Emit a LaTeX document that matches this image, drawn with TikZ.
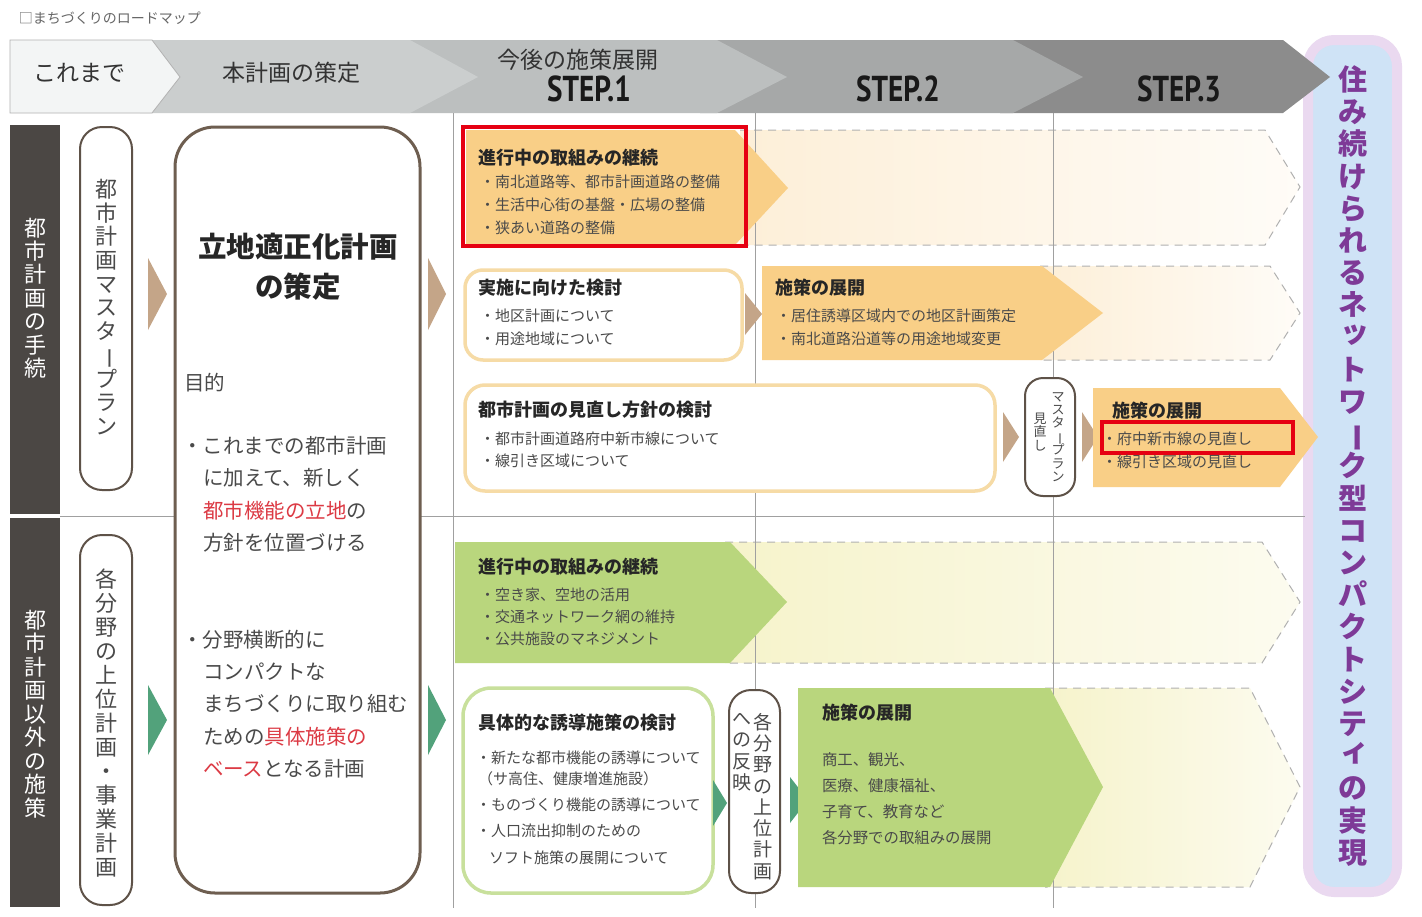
\documentclass[tikz,border=0pt]{standalone}
\usepackage{fontspec}
\setmainfont{Noto Sans CJK JP}
\newfontfamily\stepfont{PT Sans}
\definecolor{hdr0}{HTML}{F3F5F5}
\definecolor{hdr1}{HTML}{CBCECE}
\definecolor{hdr2}{HTML}{BCBFBF}
\definecolor{hdr3}{HTML}{A6A8A8}
\definecolor{hdr4}{HTML}{8C8C8C}
\definecolor{darkbar}{HTML}{4B4744}
\definecolor{pillc}{HTML}{5E5248}
\definecolor{bigc}{HTML}{6E5E50}
\definecolor{tanc}{HTML}{C4A588}
\definecolor{grtri}{HTML}{52A27B}
\definecolor{orf}{HTML}{F9CF87}
\definecolor{orb}{HTML}{F6DBA6}
\definecolor{orfade}{HTML}{FDEFD8}
\definecolor{grf}{HTML}{B9D67D}
\definecolor{grb}{HTML}{C8E09C}
\definecolor{grfade}{HTML}{F6F3CB}
\definecolor{redc}{HTML}{E60012}
\definecolor{purp}{HTML}{7E3A97}
\definecolor{lav}{HTML}{EAD9F0}
\definecolor{skyb}{HTML}{CFE3F6}
\definecolor{txtc}{HTML}{4A4A4A}
\definecolor{ttlc}{HTML}{262626}
\definecolor{gridc}{HTML}{A0A0A0}
\definecolor{redtxt}{HTML}{DC3A44}
\definecolor{dashc}{HTML}{B0B0B0}
% vertical text helpers
\newcommand\smallk[1]{\raisebox{0.18em}{\kern0.12em #1}}
\newcommand\vtg[1]{\ifx#1ー\rotatebox[origin=c]{-90}{ー}\else\ifx#1ッ\smallk{ッ}\else\ifx#1ィ\smallk{ィ}\else#1\fi\fi\fi}
\def\vtloop#1{\ifx#1\relax\else\hbox to 1.2em{\hss\vtg{#1}\hss}\expandafter\vtloop\fi}
\newcommand\vtext[2]{\vbox{\baselineskip=#1\lineskiplimit=-200pt\lineskip=0pt\vtloop#2\relax}}
\tikzset{
  ttl/.style={anchor=west,font=\bfseries\fontsize{18}{22}\selectfont,text=ttlc},
  bl/.style={anchor=west,font=\fontsize{15}{20}\selectfont,text=txtc},
  bigt/.style={anchor=west,font=\fontsize{20.5}{24}\selectfont,text=txtc},
  hdrt/.style={font=\fontsize{23}{26}\selectfont,text=black!80},
  stept/.style={font=\stepfont\bfseries\fontsize{36}{40}\selectfont,text=black!90},
  pillbox/.style={draw=pillc,line width=2pt,fill=white},
  dashext/.style={draw=dashc,line width=1pt,dash pattern=on 8pt off 6pt},
  gridl/.style={draw=gridc,line width=1pt},
}
\begin{document}
\begin{tikzpicture}[x=1pt,y=-1pt,every node/.style={inner sep=0pt,outer sep=0pt}]
\useasboundingbox (0,0) rectangle (1422,916);
\fill[white] (0,0) rectangle (1422,916);

% title
\node[anchor=west,font=\fontsize{14}{16}\selectfont,text=black!60] (title) at (19,18) {□まちづくりのロードマップ};

% goal box
\draw[line width=10pt,draw=lav,fill=skyb,rounded corners=26pt] (1308,40) rectangle (1397,892);
\node[font=\bfseries\fontsize{29}{32}\selectfont,text=purp] (goal) at (1353,466) {\vtext{32.2pt}{住み続けられるネットワーク型コンパクトシティの実現}};

% header band
\fill[hdr4] (1000,40) -- (1283,40) -- (1330,77) -- (1283,113) -- (1000,113) -- cycle;
\fill[hdr3] (700,40) -- (1013,40) -- (1083,77) -- (1013,113) -- (700,113) -- cycle;
\fill[hdr2] (400,40) -- (717,40) -- (787,77) -- (717,113) -- (400,113) -- cycle;
\fill[hdr1] (140,40) -- (410,40) -- (478,77) -- (410,113) -- (140,113) -- cycle;
\filldraw[fill=hdr0,draw=black!30,line width=0.8pt] (10,40) -- (152,40) -- (180,77) -- (152,113) -- (10,113) -- cycle;
\node[hdrt] (h0) at (79,73) {これまで};
\node[hdrt] (h1) at (291,73) {本計画の策定};
\node[hdrt] (h2) at (578,60) {今後の施策展開};
\node[stept] (s1) at (589,89) {\scalebox{0.81}[1]{STEP.1}};
\node[stept] (s2) at (898,89) {\scalebox{0.81}[1]{STEP.2}};
\node[stept] (s3) at (1179,89) {\scalebox{0.81}[1]{STEP.3}};

% faded extensions
\shade[left color=orfade,right color=orfade!20!white] (740,130) -- (1265,130) -- (1300,187) -- (1265,245) -- (740,245) -- cycle;
\draw[dashext] (740,130) -- (1265,130) -- (1300,187) -- (1265,245) -- (740,245);
\shade[left color=orfade,right color=orfade!20!white] (1040,266) -- (1270,266) -- (1300,313) -- (1270,360) -- (1040,360) -- cycle;
\draw[dashext] (1040,266) -- (1270,266) -- (1300,313) -- (1270,360) -- (1040,360);
\shade[left color=grfade,right color=grfade!30!white] (725,542) -- (1262,542) -- (1300,602) -- (1262,663) -- (725,663) -- cycle;
\draw[dashext] (725,542) -- (1262,542) -- (1300,602) -- (1262,663) -- (725,663);
\shade[left color=grfade,right color=grfade!30!white] (1045,688) -- (1250,688) -- (1300,787) -- (1250,887) -- (1045,887) -- cycle;
\draw[dashext] (1045,688) -- (1250,688) -- (1300,787) -- (1250,887) -- (1045,887);

% grid lines
\draw[gridl] (453,113) -- (453,908);
\draw[gridl] (755,113) -- (755,908);
\draw[gridl] (1053,113) -- (1053,908);
\draw[gridl] (60,516) -- (1305,516);

% left dark bars
\fill[darkbar] (10,125) rectangle (60,514);
\fill[darkbar] (10,518) rectangle (60,907);
\node[font=\fontsize{22}{24}\selectfont,text=white] (lb1) at (35,298) {\vtext{23.4pt}{都市計画の手続}};
\node[font=\fontsize{22}{24}\selectfont,text=white] (lb2) at (35,714) {\vtext{23.5pt}{都市計画以外の施策}};

% left pills
\draw[pillbox,rounded corners=22pt] (80,127) rectangle (132,490);
\node[font=\fontsize{22}{24}\selectfont,text=txtc] (p1) at (106,307) {\vtext{23.7pt}{都市計画マスタープラン}};
\draw[pillbox,rounded corners=22pt] (80,535) rectangle (132,905);
\node[font=\fontsize{22}{24}\selectfont,text=txtc] (p2) at (106,723) {\vtext{24pt}{各分野の上位計画・事業計画}};

% triangles left
\fill[tanc] (148,258) -- (167,294) -- (148,330) -- cycle;
\fill[grtri] (148,685) -- (167,720) -- (148,755) -- cycle;
\fill[tanc] (428,258) -- (446,294) -- (428,330) -- cycle;
\fill[grtri] (428,685) -- (446,720) -- (428,755) -- cycle;

% big box
\draw[draw=bigc,line width=3pt,fill=white,rounded corners=40pt] (175,127) rectangle (420,893);
\node[font=\bfseries\fontsize{28.5}{32}\selectfont,text=ttlc] (bt1) at (298,247) {立地適正化計画};
\node[font=\bfseries\fontsize{28.5}{32}\selectfont,text=ttlc] (bt2) at (298,287) {の策定};
\node[bigt] (bp0) at (184,383) {目的};
\node[bigt] (bp1) at (182,446) {・これまでの都市計画};
\node[bigt] (bp2) at (203,478) {に加えて、新しく};
\node[bigt] (bp3) at (203,511) {{\color{redtxt}都市機能の立地}の};
\node[bigt] (bp4) at (203,543) {方針を位置づける};
\node[bigt] (bp5) at (182,640) {・分野横断的に};
\node[bigt] (bp6) at (203,672) {コンパクトな};
\node[bigt] (bp7) at (203,704) {まちづくりに取り組む};
\node[bigt] (bp8) at (203,737) {ための{\color{redtxt}具体施策の}};
\node[bigt] (bp9) at (203,769) {{\color{redtxt}ベース}となる計画};

% row 1
\fill[orf] (466,130) -- (735,130) -- (788,188) -- (735,245) -- (466,245) -- cycle;
\draw[redc,line width=4pt] (463,127) rectangle (746,246);
\node[ttl] (r1t) at (478,158) {進行中の取組みの継続};
\node[bl] (r1a) at (480,182) {・南北道路等、都市計画道路の整備};
\node[bl] (r1b) at (480,205) {・生活中心街の基盤・広場の整備};
\node[bl] (r1c) at (480,228) {・狭あい道路の整備};

% row 2
\draw[draw=orb,line width=3.5pt,fill=white,rounded corners=18pt] (465,270) rectangle (742,360);
\node[ttl] (r2t) at (478,288) {実施に向けた検討};
\node[bl] (r2a) at (480,316) {・地区計画について};
\node[bl] (r2b) at (480,339) {・用途地域について};
\fill[tanc] (745,293) -- (762,314) -- (745,335) -- cycle;
\fill[orf] (762,266) -- (1042,266) -- (1103,313) -- (1042,360) -- (762,360) -- cycle;
\node[ttl] (r2u) at (775,288) {施策の展開};
\node[bl] (r2c) at (776,316) {・居住誘導区域内での地区計画策定};
\node[bl] (r2d) at (776,339) {・南北道路沿道等の用途地域変更};

% row 3
\draw[draw=orb,line width=3.5pt,fill=white,rounded corners=20pt] (465,385) rectangle (995,491);
\node[ttl] (r3t) at (478,410) {都市計画の見直し方針の検討};
\node[bl] (r3a) at (480,439) {・都市計画道路府中新市線について};
\node[bl] (r3b) at (480,461) {・線引き区域について};
\fill[tanc] (1003,412) -- (1019,437) -- (1003,462) -- cycle;
\draw[pillbox,rounded corners=18pt] (1025,378) rectangle (1075,496);
\node[font=\fontsize{13}{14}\selectfont,text=txtc] (mp1) at (1058,437) {\vtext{13.4pt}{マスタープラン}};
\node[font=\fontsize{13}{14}\selectfont,text=txtc] (mp2) at (1040,432) {\vtext{13.4pt}{見直し}};
\fill[tanc] (1082,412) -- (1098,437) -- (1082,462) -- cycle;
\fill[orf] (1093,388) -- (1280,388) -- (1318,437) -- (1280,487) -- (1093,487) -- cycle;
\node[ttl] (r3u) at (1112,411) {施策の展開};
\draw[redc,line width=4pt] (1102,422) rectangle (1293,453);
\node[bl] (r3c) at (1102,439) {・府中新市線の見直し};
\node[bl] (r3d) at (1102,462) {・線引き区域の見直し};

% row 4
\fill[grf] (455,542) -- (730,542) -- (787,602) -- (730,663) -- (455,663) -- cycle;
\node[ttl] (r4t) at (478,567) {進行中の取組みの継続};
\node[bl] (r4a) at (480,595) {・空き家、空地の活用};
\node[bl] (r4b) at (480,617) {・交通ネットワーク網の維持};
\node[bl] (r4c) at (480,639) {・公共施設のマネジメント};

% row 5
\draw[draw=grb,line width=3.5pt,fill=white,rounded corners=28pt] (463,688) rectangle (713,893);
\node[ttl] (r5t) at (478,723) {具体的な誘導施策の検討};
\node[bl] (r5a) at (476,758) {・新たな都市機能の誘導について};
\node[bl] (r5b) at (478,779) {（サ高住、健康増進施設）};
\node[bl] (r5c) at (476,805) {・ものづくり機能の誘導について};
\node[bl] (r5d) at (476,831) {・人口流出抑制のための};
\node[bl] (r5e) at (489,858) {ソフト施策の展開について};
\fill[grtri] (713,780) -- (727,803) -- (713,826) -- cycle;
\draw[pillbox,rounded corners=22pt] (729,690) rectangle (780,893);
\node[anchor=north,font=\fontsize{19}{20}\selectfont,text=txtc] (vp1) at (763,713) {\vtext{21.3pt}{各分野の上位計画}};
\node[anchor=north,font=\fontsize{19}{20}\selectfont,text=txtc] (vp2) at (742,713) {\vtext{21.3pt}{への反映}};
\fill[grtri] (790,777) -- (808,800) -- (790,823) -- cycle;
\fill[grf] (798,688) -- (1050,688) -- (1103,787) -- (1050,887) -- (798,887) -- cycle;
\node[ttl] (r5u) at (822,713) {施策の展開};
\node[bl,font=\fontsize{15.4}{20}\selectfont] (r5f) at (822,760) {商工、観光、};
\node[bl,font=\fontsize{15.4}{20}\selectfont] (r5g) at (822,786) {医療、健康福祉、};
\node[bl,font=\fontsize{15.4}{20}\selectfont] (r5h) at (822,812) {子育て、教育など};
\node[bl,font=\fontsize{15.4}{20}\selectfont] (r5i) at (822,838) {各分野での取組みの展開};
\end{tikzpicture}
\end{document}
